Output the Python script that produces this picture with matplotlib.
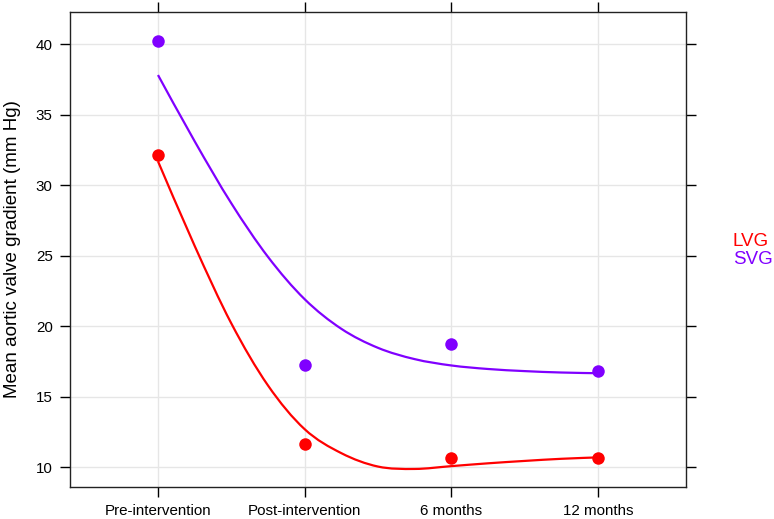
import matplotlib
matplotlib.use("Agg")
import matplotlib.pyplot as plt
from matplotlib.path import Path
from matplotlib.patches import PathPatch
import numpy as np

plt.rcParams['font.family'] = ['Liberation Sans', 'DejaVu Sans']

categories = ["Pre-intervention", "Post-intervention", "6 months", "12 months"]
groups = ["LVG", "SVG"]
colors = {"LVG": "#FF0000", "SVG": "#8000FF"}
lvg_means = [32.15, 11.65, 10.68, 10.68]
svg_means = [40.21, 17.26, 18.77, 16.85]

# smoothed trend (category index 1..4)
smooth_x = [1.0, 1.25, 1.5, 1.75, 2.0, 2.25, 2.5, 2.75, 3.0, 3.25, 3.5, 3.75, 4.0]
lvg_smooth = [31.7, 25.7, 20.2, 15.8, 12.7, 11.0, 10.05, 9.88, 10.08, 10.28, 10.45, 10.6, 10.7]
svg_smooth = [37.82, 33.12, 28.72, 24.92, 21.92, 19.82, 18.47, 17.67, 17.22, 16.97, 16.82, 16.72, 16.67]

y_ticks = [10, 15, 20, 25, 30, 35, 40]

W, H = 774, 519
fig = plt.figure(figsize=(W / 100, H / 100), dpi=100)
ax = fig.add_axes([70 / W, 1 - 487 / H, (686 - 70) / W, (487 - 12) / H])

x_pos = np.arange(1, len(categories) + 1)


def smooth_path(xs, ys):
    pts = np.column_stack([xs, ys])
    n = len(pts)
    verts = [pts[0]]
    codes = [Path.MOVETO]
    for i in range(n - 1):
        p0 = pts[max(i - 1, 0)]
        p1 = pts[i]
        p2 = pts[i + 1]
        p3 = pts[min(i + 2, n - 1)]
        c1 = p1 + (p2 - p0) / 6.0
        c2 = p2 - (p3 - p1) / 6.0
        verts += [c1, c2, p2]
        codes += [Path.CURVE4] * 3
    return Path(verts, codes)


for xv in x_pos:
    ax.axvline(xv, color="#E6E6E6", lw=1.0, zorder=0)
for yv in y_ticks:
    ax.axhline(yv, color="#E6E6E6", lw=1.0, zorder=0)

for name, means, sm in [("LVG", lvg_means, lvg_smooth), ("SVG", svg_means, svg_smooth)]:
    ax.plot(x_pos, means, 'o', color=colors[name], markersize=9.0, markeredgewidth=0, zorder=3)
    patch = PathPatch(smooth_path(smooth_x, sm), facecolor='none', edgecolor=colors[name],
                      lw=1.6, zorder=2, capstyle='butt')
    ax.add_patch(patch)

ax.set_xlim(0.4, 4.6)
ax.set_ylim(8.60, 42.29)
ax.set_xticks(x_pos)
ax.set_xticklabels(categories)
ax.set_yticks(y_ticks)
ax.set_yticklabels([str(v) for v in y_ticks])
ax.tick_params(axis='both', direction='out', length=7.5, width=1.0, color='black',
               labelsize=10.9, top=True, right=True, labeltop=False, labelright=False)
ax.tick_params(axis='y', pad=5)
ax.tick_params(axis='x', pad=5)
for s in ax.spines.values():
    s.set_color('#222222')
    s.set_linewidth(1.0)

fig.text(12.5 / W, 1 - 249.5 / H, "Mean aortic valve gradient (mm Hg)", rotation=90,
         ha='center', va='center', fontsize=13.5)

fig.text(733 / W, 1 - 241.5 / H, "LVG", color=colors["LVG"], ha='left', va='center', fontsize=13.5)
fig.text(733 / W, 1 - 260 / H, "SVG", color=colors["SVG"], ha='left', va='center', fontsize=13.5)

fig.savefig("out.png", dpi=100)
